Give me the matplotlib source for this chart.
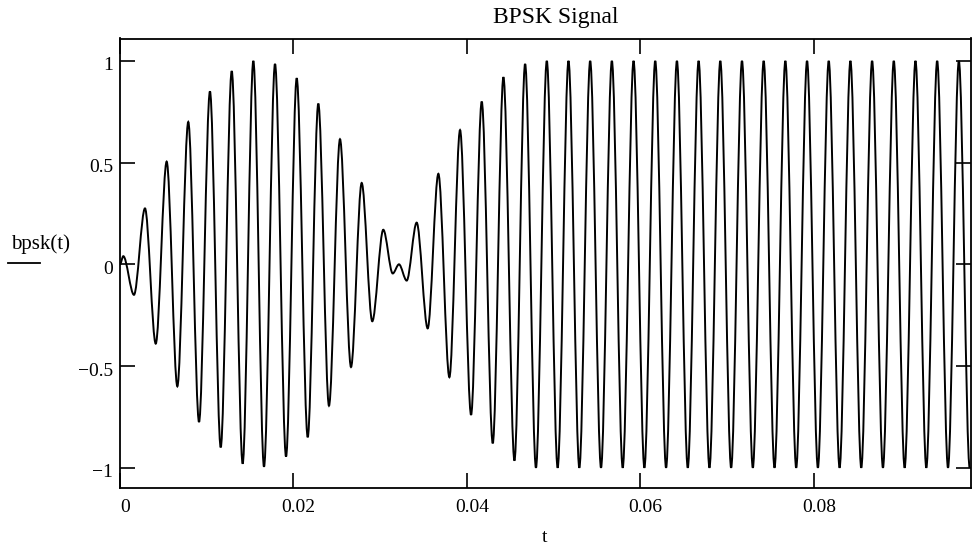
import numpy as np
import matplotlib
matplotlib.use("Agg")
import matplotlib.pyplot as plt
from matplotlib.lines import Line2D
from matplotlib.path import Path
from matplotlib.patches import PathPatch
from matplotlib.transforms import ScaledTranslation

plt.rcParams['font.family'] = ['Liberation Serif', 'DejaVu Serif']

# turning points of the trace (time in ms, amplitude)
t_ms = [0.00, 0.38, 1.61, 2.88, 4.12, 5.38, 6.61, 7.87, 9.11, 10.37,
        11.61, 12.88, 14.14, 15.37, 16.60, 17.87, 19.14, 20.37, 21.64, 22.86,
        24.09, 25.36, 26.63, 27.86, 29.08, 30.35, 31.44, 32.16, 33.05, 34.20,
        35.47, 36.70, 37.97, 39.20, 40.47, 41.70, 42.97, 44.20, 45.47, 46.70,
        47.95, 49.20, 50.45, 51.70, 52.95, 54.20, 55.45, 56.70, 57.95, 59.20,
        60.45, 61.70, 62.95, 64.20, 65.45, 66.70, 67.95, 69.20, 70.45, 71.70,
        72.95, 74.20, 75.45, 76.70, 77.95, 79.20, 80.45, 81.70, 82.95, 84.20,
        85.45, 86.70, 87.95, 89.20, 90.45, 91.70, 92.95, 94.20, 95.45, 96.70,
        97.95]
bpsk = [0.0, 0.04, -0.15, 0.275, -0.39, 0.505, -0.60, 0.70, -0.775, 0.85,
        -0.90, 0.95, -0.98, 1.0, -0.995, 0.985, -0.945, 0.915, -0.85, 0.79,
        -0.695, 0.615, -0.505, 0.40, -0.28, 0.17, -0.045, 0.0, -0.08, 0.205,
        -0.315, 0.445, -0.555, 0.66, -0.74, 0.80, -0.88, 0.92, -0.965, 0.985,
        -1.0, 1.0, -1.0, 1.0, -1.0, 1.0, -1.0, 1.0, -1.0, 1.0,
        -1.0, 1.0, -1.0, 1.0, -1.0, 1.0, -1.0, 1.0, -1.0, 1.0,
        -1.0, 1.0, -1.0, 1.0, -1.0, 1.0, -1.0, 1.0, -1.0, 1.0,
        -1.0, 1.0, -1.0, 1.0, -1.0, 1.0, -1.0, 1.0, -1.0, 1.0,
        -1.0]

x_ticks = [0, 0.02, 0.04, 0.06, 0.08]
x_tick_labels = ["0", "0.02", "0.04", "0.06", "0.08"]
y_ticks = [-1, -0.5, 0, 0.5, 1]
y_tick_labels = ["\u22121", "\u22120.5", "0", "0.5", "1"]

fig = plt.figure(figsize=(9.72, 5.52), dpi=100)
ax = fig.add_axes([120 / 972, 1 - 487.7 / 552, 851 / 972, 449.2 / 552])

# join the turning points with curves that are flat at each peak,
# so the trace looks like the sampled carrier and not a zigzag
t = np.array(t_ms) / 1000.0
verts = [(t[0], bpsk[0])]
codes = [Path.MOVETO]
for i in range(1, len(t)):
    h = 0.33 * (t[i] - t[i - 1])
    verts += [(t[i - 1] + h, bpsk[i - 1]), (t[i] - h, bpsk[i]), (t[i], bpsk[i])]
    codes += [Path.CURVE4] * 3
ax.add_patch(PathPatch(Path(verts, codes), fill=False, edgecolor="black",
                       linewidth=1.4))

ax.set_xlim(0, 0.0981)
ax.set_ylim(-1.098, 1.11)

ax.set_xticks(x_ticks)
ax.set_xticklabels(x_tick_labels)
ax.set_yticks(y_ticks)
ax.set_yticklabels(y_tick_labels)
ax.tick_params(direction="in", length=10.8, width=1.2, top=True, right=True,
               labelsize=14, colors="black")
ax.tick_params(axis="x", pad=8)
ax.tick_params(axis="y", pad=5)
for s in ax.spines.values():
    s.set_linewidth(1.3)

# Mathcad puts its tick labels a touch off the tick marks
for lab in ax.get_xticklabels():
    lab.set_transform(lab.get_transform() + ScaledTranslation(0.05, 0, fig.dpi_scale_trans))
for lab in ax.get_yticklabels():
    lab.set_transform(lab.get_transform() + ScaledTranslation(0, -0.03, fig.dpi_scale_trans))

fig.text(556 / 972, 1 - 17 / 552, "BPSK Signal", ha="center", va="center", fontsize=17)
fig.text(545 / 972, 1 - 538 / 552, "t", ha="center", va="center", fontsize=14)
fig.text(11 / 972, 1 - 244 / 552, "bpsk(t)", ha="left", va="center", fontsize=15)
# trace sample drawn under the y label
fig.add_artist(Line2D([8 / 972, 40 / 972], [1 - 263 / 552, 1 - 263 / 552],
                      color="black", linewidth=1.3, transform=fig.transFigure))

fig.savefig("out.png", dpi=100)
